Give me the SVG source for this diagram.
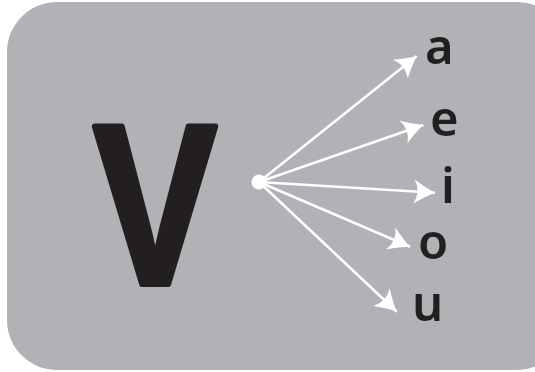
<svg xmlns="http://www.w3.org/2000/svg" width="535" height="372" viewBox="0 0 535 372">
<style>
.lbl{font-family:"Noto Sans","DejaVu Sans",sans-serif;font-size:49px;font-weight:600;fill:#231f20}
.arr{stroke:#fff;stroke-width:2.6;fill:none;marker-end:url(#ah)}
</style>
<defs>
<marker id="ah" markerUnits="userSpaceOnUse" viewBox="-24 -15 28 30" markerWidth="28" markerHeight="30" refX="0" refY="0" orient="auto">
<path d="M0,0 Q-9,-4 -21,-12 Q-14,0 -21,12 Q-9,4 0,0 Z" fill="#fff"/>
</marker>
</defs>
<rect x="7" y="2" width="560" height="368" rx="50" ry="50" fill="#b1b2b5"/>
<g id="node-V">
<text x="93" y="284" font-family="Liberation Sans, sans-serif" font-weight="bold" font-size="228" fill="#231f20" stroke="#231f20" stroke-width="6" stroke-linejoin="round" textLength="124" lengthAdjust="spacingAndGlyphs">V</text>
</g>
<g id="node-hub"><circle cx="259" cy="182" r="7.5" fill="#fff"/></g>
<g id="node-a"><text class="lbl" x="425" y="64">a</text></g>
<g id="node-e"><text class="lbl" x="430" y="136">e</text></g>
<g id="node-i"><text class="lbl" x="441" y="203">i</text></g>
<g id="node-o"><text class="lbl" x="418" y="259">o</text></g>
<g id="node-u"><text class="lbl" x="412" y="321">u</text></g>
<g id="connectors">
<line class="arr" x1="259" y1="182" x2="416.7" y2="56"/>
<line class="arr" x1="259" y1="182" x2="423.3" y2="125"/>
<line class="arr" x1="259" y1="182" x2="435" y2="192.7"/>
<line class="arr" x1="259" y1="182" x2="410" y2="246.7"/>
<line class="arr" x1="259" y1="182" x2="396.7" y2="311.7"/>
</g>
</svg>
